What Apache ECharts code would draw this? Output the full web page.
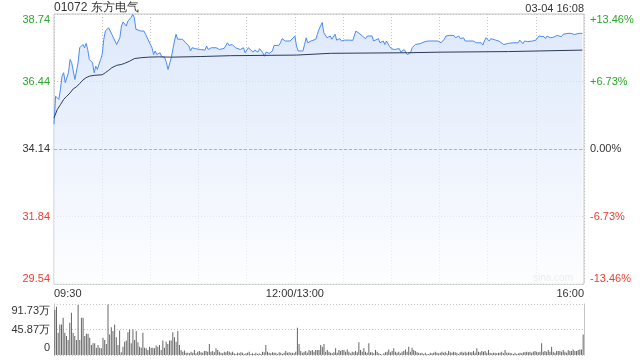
<!DOCTYPE html>
<html><head><meta charset="utf-8">
<script src="https://cdn.jsdelivr.net/npm/echarts@6/dist/echarts.min.js"></script>
<style>html,body{margin:0;padding:0;background:#fff}#c{width:640px;height:360px}</style>
</head><body><div id="c"></div>
<script>
const chartTitle = '01072 东方电气';
const stamp = '03-04 16:08';
const watermark = 'sina.com';
const prevClose = 34.14;
const priceTicks = [29.54, 31.84, 34.14, 36.44, 38.74];
const pctLabels = ['-13.46%', '-6.73%', '0.00%', '+6.73%', '+13.46%'];
const timeTickMinutes = [0, 150, 330];
const timeTickLabels = ['09:30', '12:00/13:00', '16:00'];
const volTicks = [0, 45.865, 91.73];
const volLabels = ['0', '45.87万', '91.73万'];

const priceMinutes = [0,1,3,4,5,6,7,9,10,11,13,14,15,16,18,19,20,21,22,24,25,26,27,29,30,31,32,34,35,36,38,39,41,42,43,45,46,47,48,49,50,51,52,54,56,57,58,59,60,61,62,63,64,66,67,69,70,71,72,73,75,76,77,78,80,81,82,84,85,86,88,89,91,92,94,95,96,98,99,101,103,104,106,107,108,109,111,113,114,116,118,119,121,122,124,125,127,128,130,131,132,134,136,137,138,140,141,142,144,145,147,148,150,151,152,153,155,156,157,158,160,161,163,164,165,166,167,168,169,170,172,173,174,175,176,178,179,181,182,184,186,187,188,190,191,192,194,195,196,198,199,200,202,203,205,206,207,209,210,212,213,215,216,218,219,220,222,223,225,226,228,229,231,233,234,236,237,239,240,241,243,244,246,247,249,250,252,253,255,256,258,259,261,263,264,266,267,268,269,271,272,273,275,277,278,280,281,283,284,286,287,289,290,292,293,295,296,298,299,300,302,303,305,306,307,309,310,311,313,314,316,317,318,320,321,322,324,325,327,328,329];
const prices = [34.98,35.94,35.83,36.17,36.62,36.74,36.40,36.74,37.19,37.08,36.51,36.45,37.08,37.59,37.70,37.59,37.74,37.53,37.19,37.08,36.74,36.96,36.85,37.19,37.36,37.88,38.16,38.27,38.16,38.05,37.82,37.70,37.93,38.33,38.47,38.33,38.50,38.56,38.62,38.73,38.62,38.22,38.27,38.16,38.16,38.05,37.99,37.82,37.76,37.59,37.36,37.48,37.36,37.42,37.30,37.25,37.08,36.85,36.79,37.25,37.82,38.05,37.88,37.88,37.88,37.82,37.76,37.65,37.48,37.59,37.56,37.59,37.53,37.56,37.51,37.65,37.53,37.59,37.53,37.59,37.53,37.59,37.57,37.59,37.76,37.67,37.70,37.59,37.63,37.53,37.59,37.42,37.59,37.53,37.44,37.51,37.44,37.56,37.42,37.30,37.44,37.40,37.48,37.67,37.70,37.67,37.76,37.90,37.82,37.82,37.82,37.78,37.99,37.65,37.48,37.53,37.48,37.70,37.93,37.76,37.82,37.88,37.88,38.05,38.22,38.27,38.45,38.10,38.05,37.93,37.99,37.88,37.82,38.05,37.85,37.90,37.82,37.85,37.80,37.85,37.84,37.85,38.16,38.08,38.08,37.99,37.90,37.99,37.97,37.99,37.82,37.76,37.90,37.76,37.82,37.70,37.82,37.63,37.56,37.53,37.48,37.56,37.44,37.53,37.44,37.36,37.42,37.59,37.70,37.76,37.73,37.76,37.80,37.82,37.76,37.82,37.80,37.82,37.80,37.76,37.88,37.99,38.01,37.97,38.01,37.93,37.99,37.90,37.93,37.82,37.82,37.78,37.82,37.76,37.80,37.76,37.68,37.82,37.93,37.82,37.90,37.85,37.85,37.82,37.76,37.70,37.76,37.74,37.78,37.76,37.82,37.76,37.85,37.73,37.82,37.80,37.84,37.82,37.88,37.85,37.99,38.05,37.97,37.90,37.99,37.93,37.99,37.95,38.01,37.99,37.97,38.05,38.01,38.08,38.05,38.08,38.04,38.08,38.08,38.05,38.08];

const avgMinutes = [0,2,4,6,8,10,12,14,16,18,20,22,25,30,32,34,36,39,42,44,47,50,54,59,65,73,91,110,151,172,220,241,283,329];
const avgPrices = [35.20,35.48,35.65,35.83,35.94,36.05,36.19,36.26,36.37,36.49,36.57,36.62,36.65,36.67,36.74,36.82,36.91,36.99,37.02,37.06,37.13,37.22,37.25,37.27,37.28,37.27,37.29,37.32,37.34,37.40,37.42,37.44,37.46,37.51];

const volumes = [81,87,40,55,55,67,40,34,27,58,76,40,34,27,90,27,67,67,34,38,38,31,18,21,21,13,18,13,12,31,27,20,91,37,50,43,55,32,18,44,5,15,24,26,41,46,21,46,27,43,23,15,13,40,13,12,9,15,13,13,12,17,15,18,9,26,13,24,20,26,26,41,32,24,43,18,9,6,8,4,4,3,6,4,9,3,6,7,5,4,7,7,6,20,6,7,5,12,9,6,4,3,6,5,7,6,4,6,3,2,4,3,5,4,2,3,4,6,2,3,2,4,2,3,2,6,5,18,6,4,3,5,4,4,2,5,4,2,4,7,4,5,4,4,3,6,49,20,7,4,6,7,4,9,7,9,6,9,9,
9,18,15,20,6,9,6,4,3,5,12,4,9,7,9,9,6,10,6,3,6,5,7,5,23,9,6,12,6,4,21,5,5,3,9,6,3,2,1,3,5,6,10,5,7,12,6,4,6,3,6,7,10,6,15,6,13,9,7,5,4,3,4,2,4,2,2,4,3,4,6,4,3,4,6,4,6,3,7,5,4,6,5,4,2,5,6,4,6,4,6,5,5,7,4,12,6,5,7,6,7,4,9,4,3,4,4,3,4,4,6,3,9,4,4,4,3,2,4,2,3,4,3,5,5,6,5,6,4,6,7,6,5,6,21,6,7,6,9,6,15,6,4,7,7,7,6,9,6,4,9,7,7,10,7,7,9,10,10,37];

const FONT = '"Liberation Sans", Arial, sans-serif';
const GREEN = '#2ba52b', RED = '#f03c32', DARK = '#333333', GRIDC = '#c4c4c4';

function nearest(arr, v) {
  let bi = 0;
  for (let i = 1; i < arr.length; i++) if (Math.abs(arr[i] - v) < Math.abs(arr[bi] - v)) bi = i;
  return bi;
}
const priceKeys = ['rb', 'r', 'k', 'g', 'gt'];
const volKeys = ['kb', 'k', 'kt'];
const base = { fontSize: 11, fontFamily: FONT };
const rich = {
  g: Object.assign({ color: GREEN }, base),
  gt: Object.assign({ color: GREEN, padding: [11, 0, 0, 0] }, base),
  r: Object.assign({ color: RED }, base),
  rb: Object.assign({ color: RED, padding: [0, 0, 11, 0] }, base),
  k: Object.assign({ color: DARK }, base),
  kt: Object.assign({ color: DARK, padding: [14, 0, 0, 0] }, base),
  kb: Object.assign({ color: DARK, padding: [0, 0, 14, 0] }, base)
};
const dotted = { color: GRIDC, width: 1, type: [1, 2] };

const chart = echarts.init(document.getElementById('c'), null, { renderer: 'canvas' });
chart.setOption({
  animation: false,
  backgroundColor: '#fff',
  title: [
    { text: chartTitle, left: 54, top: 2, padding: 0, textStyle: { fontSize: 12, fontWeight: 'normal', color: DARK, fontFamily: FONT } },
    { text: stamp, right: 56, top: 3, padding: 0, textStyle: { fontSize: 11, fontWeight: 'normal', color: DARK, fontFamily: FONT } }
  ],
  graphic: [{ type: 'text', right: 67, top: 273, style: { text: watermark, fontSize: 10, fill: '#c8c8c8', fontFamily: FONT } }],
  grid: [
    { left: 54, top: 14, width: 530, height: 270, show: true, borderColor: GRIDC, borderWidth: 1, backgroundColor: 'transparent' },
    { left: 54, top: 304, width: 530, height: 51 }
  ],
  xAxis: [
    { type: 'value', gridIndex: 0, min: 0, max: 330, interval: 30,
      axisLine: { show: false }, axisTick: { show: false },
      splitLine: { show: true, lineStyle: dotted },
      axisLabel: { margin: 4, color: DARK, fontSize: 11, fontFamily: FONT, showMinLabel: true, showMaxLabel: true,
        alignMinLabel: 'left', alignMaxLabel: 'right',
        formatter: v => { const i = timeTickMinutes.indexOf(v); return i >= 0 ? timeTickLabels[i] : ''; } } },
    { type: 'category', gridIndex: 1, data: volumes.map((_, i) => i), show: false, boundaryGap: true }
  ],
  yAxis: [
    { type: 'value', gridIndex: 0, position: 'left', min: 29.54, max: 38.74, interval: 2.3,
      axisLine: { show: false }, axisTick: { show: false },
      splitLine: { show: true, lineStyle: dotted },
      axisLabel: { margin: 4, rich: rich, formatter: v => { const i = nearest(priceTicks, v); return '{' + priceKeys[i] + '|' + priceTicks[i].toFixed(2) + '}'; } } },
    { type: 'value', gridIndex: 0, position: 'right', min: 29.54, max: 38.74, interval: 2.3,
      axisLine: { show: false }, axisTick: { show: false }, splitLine: { show: false },
      axisLabel: { margin: 6, rich: rich, formatter: v => { const i = nearest(priceTicks, v); return '{' + priceKeys[i] + '|' + pctLabels[i] + '}'; } } },
    { type: 'value', gridIndex: 1, position: 'left', min: 0, max: 91.73, interval: 45.865,
      axisLine: { show: true, lineStyle: { color: GRIDC } }, axisTick: { show: false },
      splitLine: { show: true, lineStyle: dotted },
      axisLabel: { margin: 4, rich: rich, formatter: v => { const i = nearest(volTicks, v); return '{' + volKeys[i] + '|' + volLabels[i] + '}'; } } },
    { type: 'value', gridIndex: 1, position: 'right', min: 0, max: 91.73,
      axisLine: { show: true, lineStyle: { color: GRIDC } }, axisTick: { show: false },
      splitLine: { show: false }, axisLabel: { show: false } }
  ],
  series: [
    { type: 'line', xAxisIndex: 0, yAxisIndex: 0, symbol: 'none', z: 3,
      data: priceMinutes.map((m, i) => [m, prices[i]]),
      lineStyle: { color: '#4a8bf2', width: 1 },
      areaStyle: { origin: 'start', color: new echarts.graphic.LinearGradient(0, 0, 0, 1, [
        { offset: 0, color: '#cfdff9' }, { offset: 1, color: '#fcfdff' }]) },
      markLine: { silent: true, symbol: 'none', label: { show: false },
        lineStyle: { color: '#b0b0b0', type: [3, 2], width: 1 }, data: [{ yAxis: prevClose }] } },
    { type: 'line', xAxisIndex: 0, yAxisIndex: 0, symbol: 'none', z: 4,
      data: avgMinutes.map((m, i) => [m, avgPrices[i]]),
      lineStyle: { color: '#2b3a57', width: 1 } },
    { type: 'bar', xAxisIndex: 1, yAxisIndex: 2, data: volumes, barWidth: 1,
      itemStyle: { color: '#666666' } }
  ]
});
</script></body></html>
